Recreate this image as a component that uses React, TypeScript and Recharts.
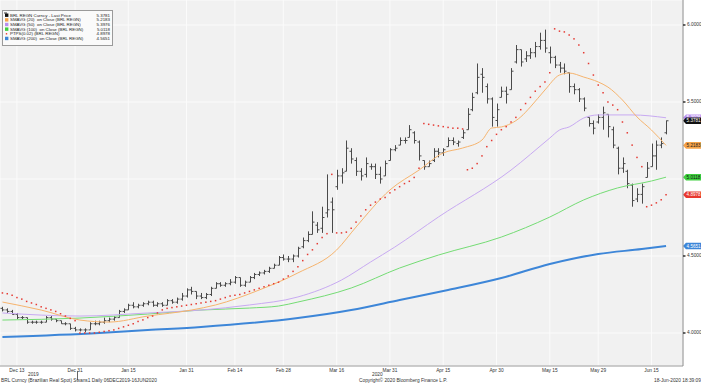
import React from 'react';
import { ComposedChart, Bar, Line, XAxis, YAxis, CartesianGrid, ReferenceLine } from 'recharts';

// trading days 10 Dec 2019 .. 18 Jun 2020, plus three empty slots on the right
const dates = [
  '2019-12-10', '2019-12-11', '2019-12-12', '2019-12-13', '2019-12-16', '2019-12-17', '2019-12-18', '2019-12-19',
  '2019-12-20', '2019-12-23', '2019-12-24', '2019-12-25', '2019-12-26', '2019-12-27', '2019-12-30', '2019-12-31',
  '2020-01-01', '2020-01-02', '2020-01-03', '2020-01-06', '2020-01-07', '2020-01-08', '2020-01-09', '2020-01-10',
  '2020-01-13', '2020-01-14', '2020-01-15', '2020-01-16', '2020-01-17', '2020-01-20', '2020-01-21', '2020-01-22',
  '2020-01-23', '2020-01-24', '2020-01-27', '2020-01-28', '2020-01-29', '2020-01-30', '2020-01-31',
  '2020-02-03', '2020-02-04', '2020-02-05', '2020-02-06', '2020-02-07', '2020-02-10', '2020-02-11', '2020-02-12',
  '2020-02-13', '2020-02-14', '2020-02-17', '2020-02-18', '2020-02-19', '2020-02-20', '2020-02-21', '2020-02-24',
  '2020-02-25', '2020-02-26', '2020-02-27', '2020-02-28',
  '2020-03-02', '2020-03-03', '2020-03-04', '2020-03-05', '2020-03-06', '2020-03-09', '2020-03-10', '2020-03-11',
  '2020-03-12', '2020-03-13', '2020-03-16', '2020-03-17', '2020-03-18', '2020-03-19', '2020-03-20', '2020-03-23',
  '2020-03-24', '2020-03-25', '2020-03-26', '2020-03-27', '2020-03-30', '2020-03-31',
  '2020-04-01', '2020-04-02', '2020-04-03', '2020-04-06', '2020-04-07', '2020-04-08', '2020-04-09', '2020-04-10',
  '2020-04-13', '2020-04-14', '2020-04-15', '2020-04-16', '2020-04-17', '2020-04-20', '2020-04-21', '2020-04-22',
  '2020-04-23', '2020-04-24', '2020-04-27', '2020-04-28', '2020-04-29', '2020-04-30',
  '2020-05-01', '2020-05-04', '2020-05-05', '2020-05-06', '2020-05-07', '2020-05-08', '2020-05-11', '2020-05-12',
  '2020-05-13', '2020-05-14', '2020-05-15', '2020-05-18', '2020-05-19', '2020-05-20', '2020-05-21', '2020-05-22',
  '2020-05-25', '2020-05-26', '2020-05-27', '2020-05-28', '2020-05-29',
  '2020-06-01', '2020-06-02', '2020-06-03', '2020-06-04', '2020-06-05', '2020-06-08', '2020-06-09', '2020-06-10',
  '2020-06-11', '2020-06-12', '2020-06-15', '2020-06-16', '2020-06-17', '2020-06-18',
  '2020-06-19', '2020-06-22', '2020-06-23',
];

// BRL REGN daily bars
const opens = [
  4.16, 4.15, 4.14, 4.12, 4.10, 4.10, 4.07, 4.07, 4.07, 4.07, 4.10, 4.09, 4.08, 4.06, 4.06, 4.03,
  4.02, 4.02, 4.02, 4.06, 4.06, 4.07, 4.08, 4.09, 4.10, 4.14, 4.15, 4.18, 4.17, 4.18, 4.19, 4.20,
  4.18, 4.19, 4.18, 4.21, 4.20, 4.22, 4.24,
  4.28, 4.27, 4.24, 4.23, 4.25, 4.29, 4.32, 4.31, 4.32, 4.33, 4.36, 4.31, 4.33, 4.36, 4.38, 4.39,
  4.40, 4.42, 4.44, 4.49,
  4.48, 4.48, 4.50, 4.56, 4.60, 4.64, 4.70, 4.68, 4.78, 4.85, 4.95, 5.02, 5.05, 5.18, 5.12, 5.05,
  5.03, 5.08, 5.08, 5.03, 5.02, 5.12,
  5.19, 5.22, 5.25, 5.27, 5.30, 5.24, 5.12, 5.08, 5.12, 5.18, 5.17, 5.21, 5.25, 5.23, 5.27, 5.32,
  5.45, 5.56, 5.68, 5.60, 5.52, 5.38,
  5.53, 5.57, 5.58, 5.76, 5.84, 5.78, 5.80, 5.82, 5.86, 5.90, 5.82, 5.79, 5.74, 5.72, 5.69, 5.60,
  5.58, 5.52, 5.40, 5.36, 5.37,
  5.40, 5.42, 5.32, 5.20, 5.07, 5.05, 4.96, 4.87, 4.90, 5.01, 5.08, 5.15, 5.22, 5.30,
];
const highs = [
  4.17, 4.16, 4.15, 4.13, 4.11, 4.10, 4.08, 4.08, 4.08, 4.11, 4.11, 4.09, 4.08, 4.07, 4.06, 4.04,
  4.03, 4.03, 4.07, 4.08, 4.08, 4.10, 4.10, 4.11, 4.15, 4.16, 4.19, 4.20, 4.19, 4.20, 4.21, 4.21,
  4.20, 4.20, 4.22, 4.22, 4.23, 4.26, 4.29,
  4.30, 4.27, 4.26, 4.26, 4.30, 4.33, 4.33, 4.33, 4.35, 4.37, 4.36, 4.34, 4.37, 4.39, 4.40, 4.41,
  4.43, 4.45, 4.50, 4.51,
  4.50, 4.51, 4.56, 4.62, 4.66, 4.79, 4.72, 4.82, 5.03, 4.88, 5.06, 5.07, 5.25, 5.20, 5.14, 5.07,
  5.14, 5.10, 5.10, 5.08, 5.12, 5.20,
  5.22, 5.27, 5.27, 5.35, 5.31, 5.25, 5.12, 5.12, 5.20, 5.20, 5.20, 5.27, 5.27, 5.25, 5.32, 5.46,
  5.56, 5.75, 5.72, 5.62, 5.53, 5.49,
  5.60, 5.60, 5.72, 5.87, 5.84, 5.83, 5.85, 5.89, 5.95, 5.97, 5.86, 5.80, 5.76, 5.75, 5.69, 5.62,
  5.59, 5.53, 5.40, 5.38, 5.42,
  5.47, 5.42, 5.34, 5.21, 5.14, 5.06, 4.97, 4.94, 4.97, 5.11, 5.23, 5.25, 5.27, 5.38,
];
const lows = [
  4.14, 4.13, 4.12, 4.09, 4.09, 4.06, 4.06, 4.06, 4.06, 4.07, 4.08, 4.07, 4.06, 4.05, 4.02, 4.01,
  4.01, 4.005, 4.02, 4.05, 4.05, 4.06, 4.07, 4.08, 4.10, 4.13, 4.15, 4.16, 4.16, 4.17, 4.18, 4.17,
  4.17, 4.17, 4.18, 4.19, 4.19, 4.21, 4.23,
  4.25, 4.22, 4.22, 4.22, 4.24, 4.29, 4.30, 4.30, 4.31, 4.32, 4.30, 4.30, 4.33, 4.35, 4.37, 4.38,
  4.39, 4.42, 4.44, 4.47,
  4.46, 4.46, 4.49, 4.55, 4.59, 4.64, 4.65, 4.65, 4.75, 4.65, 4.93, 4.97, 5.05, 5.10, 5.02, 4.99,
  5.01, 5.06, 5.00, 4.97, 5.02, 5.12,
  5.18, 5.22, 5.23, 5.27, 5.23, 5.12, 5.06, 5.08, 5.11, 5.14, 5.15, 5.21, 5.22, 5.21, 5.26, 5.32,
  5.44, 5.55, 5.56, 5.49, 5.34, 5.34,
  5.53, 5.49, 5.58, 5.75, 5.73, 5.76, 5.78, 5.79, 5.84, 5.82, 5.75, 5.72, 5.69, 5.68, 5.56, 5.55,
  5.50, 5.44, 5.34, 5.29, 5.36,
  5.32, 5.27, 5.20, 5.03, 5.04, 4.94, 4.82, 4.85, 4.84, 5.01, 5.08, 5.06, 5.20, 5.29,
];
const closes = [
  4.15, 4.14, 4.12, 4.10, 4.10, 4.07, 4.07, 4.07, 4.07, 4.10, 4.09, 4.08, 4.06, 4.06, 4.03, 4.02,
  4.02, 4.02, 4.06, 4.06, 4.07, 4.08, 4.09, 4.10, 4.14, 4.15, 4.18, 4.17, 4.18, 4.19, 4.20, 4.18,
  4.19, 4.18, 4.21, 4.20, 4.22, 4.24, 4.28,
  4.27, 4.24, 4.23, 4.25, 4.29, 4.32, 4.31, 4.32, 4.33, 4.36, 4.31, 4.33, 4.36, 4.38, 4.39, 4.40,
  4.42, 4.44, 4.49, 4.48,
  4.48, 4.50, 4.55, 4.60, 4.64, 4.72, 4.67, 4.75, 4.80, 4.80, 5.02, 5.04, 5.20, 5.13, 5.05, 5.02,
  5.10, 5.08, 5.03, 5.00, 5.10, 5.19,
  5.20, 5.25, 5.25, 5.32, 5.25, 5.15, 5.08, 5.10, 5.18, 5.17, 5.19, 5.25, 5.24, 5.24, 5.30, 5.42,
  5.53, 5.66, 5.66, 5.52, 5.40, 5.45,
  5.57, 5.55, 5.70, 5.84, 5.76, 5.80, 5.82, 5.86, 5.90, 5.85, 5.79, 5.74, 5.72, 5.70, 5.60, 5.58,
  5.52, 5.46, 5.36, 5.33, 5.40,
  5.43, 5.34, 5.22, 5.07, 5.10, 4.97, 4.86, 4.90, 4.95, 5.07, 5.15, 5.22, 5.23, 5.3781,
];

// PTPS(0.02) parabolic stop, one dot per day
const sar = [
  4.26, 4.255, 4.245, 4.23, 4.22, 4.205, 4.195, 4.185, 4.17, 4.16, 4.15, 4.14, 4.125, 4.11, 4.095, 4.08,
  4.0, 4.0, 4.0, 4.0, 4.005, 4.01, 4.015, 4.02, 4.03, 4.04, 4.05, 4.06, 4.075, 4.085,
  4.10, 4.11, 4.13, 4.15, 4.16, 4.165, 4.17, 4.175, 4.18, 4.185, 4.19, 4.195, 4.20, 4.205, 4.21, 4.22,
  4.23, 4.24, 4.245, 4.25,
  4.26, 4.27, 4.28, 4.29, 4.30, 4.31, 4.32, 4.33, 4.35, 4.37, 4.40, 4.43, 4.47, 4.51, 4.54, 4.58,
  4.62, 4.645,
  5.03,
  4.65, 4.65, 4.655, 4.68, 4.72, 4.76, 4.80, 4.83, 4.85, 4.87, 4.88, 4.91, 4.93, 4.95, 4.97, 4.985,
  5.01, 5.07,
  5.36, 5.355, 5.35, 5.345, 5.34, 5.335, 5.33, 5.33, 5.325,
  5.06, 5.07, 5.10, 5.15, 5.21, 5.25, 5.29, 5.32, 5.34, 5.37, 5.40, 5.45, 5.49, 5.53, 5.57, 5.60,
  5.63, 5.69,
  5.975, 5.96, 5.955, 5.935, 5.91, 5.87, 5.82, 5.75, 5.675, 5.61, 5.56, 5.50, 5.48, 5.45, 5.37, 5.30,
  5.22, 5.14, 5.08,
  4.82, 4.83, 4.845, 4.865, 4.8978,
];

// moving averages at a few dates each
const sma20: [string, number][] = [
  ['2019-12-10', 4.201], ['2019-12-20', 4.149], ['2020-01-01', 4.084], ['2020-01-09', 4.071],
  ['2020-01-21', 4.110], ['2020-02-03', 4.149], ['2020-02-10', 4.182], ['2020-02-21', 4.279],
  ['2020-03-04', 4.390], ['2020-03-16', 4.539], ['2020-03-20', 4.688], ['2020-03-31', 4.929],
  ['2020-04-08', 5.058], ['2020-04-15', 5.169], ['2020-04-21', 5.201], ['2020-04-27', 5.253],
  ['2020-04-29', 5.331], ['2020-05-01', 5.338], ['2020-05-07', 5.403], ['2020-05-11', 5.468],
  ['2020-05-14', 5.578], ['2020-05-19', 5.675], ['2020-05-21', 5.688], ['2020-05-26', 5.662],
  ['2020-05-29', 5.630], ['2020-06-02', 5.597], ['2020-06-05', 5.513], ['2020-06-10', 5.403],
  ['2020-06-15', 5.318], ['2020-06-18', 5.2183],
];
const sma50: [string, number][] = [
  ['2019-12-10', 4.130], ['2020-01-01', 4.110], ['2020-01-21', 4.130], ['2020-02-05', 4.149],
  ['2020-02-19', 4.182], ['2020-03-04', 4.234], ['2020-03-17', 4.344], ['2020-03-25', 4.461],
  ['2020-04-01', 4.558], ['2020-04-14', 4.753], ['2020-05-05', 5.058], ['2020-05-15', 5.266],
  ['2020-05-19', 5.318], ['2020-05-21', 5.338], ['2020-05-26', 5.396], ['2020-05-29', 5.416],
  ['2020-06-09', 5.416], ['2020-06-18', 5.3976],
];
const sma100: [string, number][] = [
  ['2019-12-10', 4.084], ['2020-01-01', 4.097], ['2020-01-21', 4.123], ['2020-02-05', 4.149],
  ['2020-02-19', 4.162], ['2020-02-27', 4.175], ['2020-03-04', 4.201], ['2020-03-19', 4.292],
  ['2020-04-02', 4.422], ['2020-04-14', 4.506], ['2020-05-01', 4.623], ['2020-05-15', 4.753],
  ['2020-05-26', 4.864], ['2020-06-04', 4.942], ['2020-06-15', 4.987], ['2020-06-18', 5.0118],
];
const sma200: [string, number][] = [
  ['2019-12-10', 3.974], ['2020-01-07', 4.000], ['2020-01-21', 4.019], ['2020-02-05', 4.039],
  ['2020-03-04', 4.097], ['2020-03-19', 4.149], ['2020-04-02', 4.214], ['2020-04-16', 4.279],
  ['2020-05-01', 4.357], ['2020-05-15', 4.448], ['2020-05-29', 4.513], ['2020-06-11', 4.545],
  ['2020-06-18', 4.5651],
];

const tickDates = [
  '2019-12-13', '2019-12-31', '2020-01-15', '2020-01-31', '2020-02-14', '2020-02-28', '2020-03-16',
  '2020-03-31', '2020-04-15', '2020-04-30', '2020-05-15', '2020-05-29', '2020-06-15',
];
const monthNames = ['Jan', 'Feb', 'Mar', 'Apr', 'May', 'Jun', 'Jul', 'Aug', 'Sep', 'Oct', 'Nov', 'Dec'];
const yTicks = [4, 4.5, 5, 5.5, 6];

const legendLabels = [
  'BRL REGN Curncy - Last Price',
  'SMAVG (20)  on Close (BRL REGN)',
  'SMAVG (50)  on Close (BRL REGN)',
  'SMAVG (100)  on Close (BRL REGN)',
  'PTPS(0.02) (BRL REGN)',
  'SMAVG (200)  on Close (BRL REGN)',
];
const legendValues = [5.3781, 5.2183, 5.3976, 5.0118, 4.8978, 4.5651];
const legendColors = ['#111111', '#f5a34a', '#b98ff0', '#3fd03f', '#e8382f', '#3d86d8'];
const tagTextColors = ['#ffffff', '#222222', '#ffffff', '#111111', '#ffffff', '#ffffff'];
const tagOrder = [2, 1, 3, 4, 5, 0];

const FONT = '"Liberation Sans", Arial, sans-serif';

const byDate = (pairs: [string, number][]) => new Map(pairs);
const m20 = byDate(sma20);
const m50 = byDate(sma50);
const m100 = byDate(sma100);
const m200 = byDate(sma200);

const data = dates.map((date, i) => ({
  date,
  open: opens[i],
  high: highs[i],
  low: lows[i],
  close: closes[i],
  hl: highs[i] != null ? [lows[i], highs[i]] : undefined,
  sar: sar[i],
  sma20: m20.get(date) ?? null,
  sma50: m50.get(date) ?? null,
  sma100: m100.get(date) ?? null,
  sma200: m200.get(date) ?? null,
}));

function formatDate(d: string) {
  const [, m, day] = d.split('-');
  return `${monthNames[Number(m) - 1]} ${Number(day)}`;
}

function OhlcBar(props: any) {
  const { x, width, y, height, payload } = props;
  if (payload == null || payload.high == null) return <g />;
  const top = Math.min(y, y + height);
  const h = Math.abs(height);
  const cx = Math.round(x + width / 2) + 0.5;
  const span = payload.high - payload.low || 1;
  const yo = top + ((payload.high - payload.open) / span) * h;
  const yc = top + ((payload.high - payload.close) / span) * h;
  return (
    <g stroke="#4a4a4a" strokeWidth={1}>
      <line x1={cx} x2={cx} y1={top} y2={top + Math.max(h, 1)} />
      <line x1={cx - 2} x2={cx} y1={yo} y2={yo} />
      <line x1={cx} x2={cx + 2} y1={yc} y2={yc} />
    </g>
  );
}

function SarDot(props: any) {
  const { cx, cy, index } = props;
  if (cy == null || isNaN(cy)) return <g key={index} />;
  return <rect key={index} x={cx - 0.75} y={cy - 0.75} width={1.5} height={1.5} fill="#e53a33" />;
}

function XTick(props: any) {
  const { x, y, payload } = props;
  return (
    <text x={x} y={y + 6} textAnchor="middle" fontSize={4.8} fontFamily={FONT} fill="#333">
      {formatDate(payload.value)}
    </text>
  );
}

function YTick(props: any) {
  const { x, y, payload } = props;
  if (payload.value === 5) return <g />;
  return (
    <g>
      <rect x={x} y={y - 0.75} width={2.5} height={1.5} fill="#333" />
      <text x={x + 4} y={y} dominantBaseline="central" fontSize={4.8} fontFamily={FONT} fill="#333">
        {payload.value.toFixed(4)}
      </text>
    </g>
  );
}

const tagLabel = (k: number) => (props: any) => {
  const vb = props.viewBox;
  if (!vb) return null;
  const x0 = vb.x + vb.width;
  const yc = vb.y;
  const pts = `${x0},${yc} ${x0 + 3},${yc - 3.3} ${x0 + 18},${yc - 3.3} ${x0 + 18},${yc + 3.3} ${x0 + 3},${yc + 3.3}`;
  return (
    <g>
      <polygon points={pts} fill={legendColors[k]} />
      <text x={x0 + 3.6} y={yc + 0.2} dominantBaseline="central" fontSize={4.6} fontFamily={FONT} fill={tagTextColors[k]}>
        {legendValues[k].toFixed(4)}
      </text>
    </g>
  );
};

function Legend() {
  return (
    <svg width={116} height={50} style={{ position: 'absolute', left: 0, top: 0 }}>
      <rect x={2.5} y={10.5} width={110} height={35} fill="#fafafa" stroke="#9a9a9a" />
      <rect x={4} y={12} width={3} height={2} fill="#9a9a9a" />
      {legendLabels.map((label, i) => {
        const yc = 15.2 + i * 4.65;
        return (
          <g key={label}>
            {i === 4 ? (
              <rect x={5.8} y={yc - 0.7} width={1.4} height={1.4} fill={legendColors[i]} />
            ) : (
              <rect x={5} y={yc - 1.7} width={3.4} height={3.4} fill={legendColors[i]} />
            )}
            <text x={10} y={yc} dominantBaseline="central" fontSize={4.4} fontFamily={FONT} fill="#222" style={{ whiteSpace: 'pre' }}>
              {label}
            </text>
            <text x={110} y={yc} dominantBaseline="central" textAnchor="end" fontSize={4.4} fontFamily={FONT} fill="#222">
              {legendValues[i].toFixed(4)}
            </text>
          </g>
        );
      })}
    </svg>
  );
}

export default function App() {
  return (
    <div style={{ position: 'absolute', left: 0, top: 0, width: 701, height: 385, background: '#fff' }}>
      <ComposedChart width={701} height={385} data={data} margin={{ top: 0, right: 0, bottom: 0, left: 0 }}>
        <CartesianGrid fill="#f1f1f1" stroke="#fbfbfb" strokeWidth={1} />
        <XAxis
          dataKey="date"
          ticks={tickDates}
          interval={0}
          height={19}
          tickSize={0}
          tickMargin={0}
          tick={<XTick />}
          axisLine={{ stroke: '#9c9c9c' }}
          tickLine={false}
        />
        <YAxis
          orientation="right"
          width={18}
          domain={[3.7857, 6.1623]}
          ticks={yTicks}
          allowDataOverflow
          tickSize={0}
          tickMargin={0}
          tick={<YTick />}
          axisLine={{ stroke: '#8c8c8c' }}
          tickLine={false}
        />
        <Line dataKey="sma200" type="monotone" stroke="#3d86d8" strokeWidth={2} dot={false} activeDot={false} connectNulls isAnimationActive={false} />
        <Line dataKey="sma100" type="monotone" stroke="#74dc74" strokeWidth={1} dot={false} activeDot={false} connectNulls isAnimationActive={false} />
        <Line dataKey="sma50" type="monotone" stroke="#c8aaf2" strokeWidth={1} dot={false} activeDot={false} connectNulls isAnimationActive={false} />
        <Line dataKey="sma20" type="monotone" stroke="#f6b46e" strokeWidth={1} dot={false} activeDot={false} connectNulls isAnimationActive={false} />
        <Bar dataKey="hl" shape={<OhlcBar />} isAnimationActive={false} />
        <Line dataKey="sar" stroke="none" dot={<SarDot />} activeDot={false} isAnimationActive={false} />
        {tagOrder.map((k) => (
          <ReferenceLine key={k} y={legendValues[k]} stroke="none" ifOverflow="visible" label={{ content: tagLabel(k) }} />
        ))}
      </ComposedChart>
      <Legend />
      <div style={{ position: 'absolute', left: 0, top: 0, width: 701, height: 385, pointerEvents: 'none', fontFamily: FONT, fontSize: 4.8, color: '#333' }}>
        <span style={{ position: 'absolute', left: 28, top: 372 }}>2019</span>
        <span style={{ position: 'absolute', left: 77, top: 371, width: 0, height: 9, borderLeft: '1px solid #666' }} />
        <span style={{ position: 'absolute', left: 372, top: 372 }}>2020</span>
        <span style={{ position: 'absolute', left: 1, top: 378 }}>BRL Curncy (Brazilian Real Spot) Swans1  Daily 06DEC2019-16JUN2020</span>
        <span style={{ position: 'absolute', left: 359, top: 378 }}>Copyright© 2020 Bloomberg Finance L.P.</span>
        <span style={{ position: 'absolute', left: 654, top: 378 }}>18-Jun-2020 18:39:09</span>
      </div>
    </div>
  );
}
